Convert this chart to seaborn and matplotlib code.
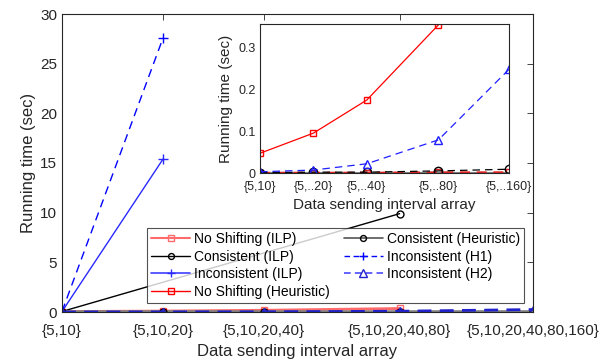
import numpy as np
import pandas as pd
import matplotlib
matplotlib.use("Agg")
import matplotlib.pyplot as plt
import seaborn as sns

sns.set_style("white")
plt.rcParams['font.family'] = ['Liberation Sans', 'DejaVu Sans']

# ---- data ----
x_pos = [0, 1, 2, 3.34, 4.66]
main_labels = ['{5,10}', '{5,10,20}', '{5,10,20,40}', '{5,10,20,40,80}', '{5,10,20,40,80,160}']
inset_labels = ['{5,10}', '{5,..20}', '{5,..40}', '{5,..80}', '{5,..160}']

ns_ilp = [0.047, 0.095, 0.174, 0.353, np.nan]
cons_ilp = [0.05, np.nan, np.nan, 9.9, np.nan]
incons_ilp = [0.05, 15.4, np.nan, np.nan, np.nan]
ns_heur = [0.001, 0.001, 0.001, 0.002, 0.002]
cons_heur = [0.001, 0.002, 0.002, 0.005, 0.009]
incons_h1 = [0.05, 27.6, np.nan, np.nan, np.nan]
incons_h2 = [0.003, 0.007, 0.022, 0.079, 0.247]

main_yticks = [0, 5, 10, 15, 20, 25, 30]
inset_yticks = [0, 0.1, 0.2, 0.3]

TXT = '#262626'

fig = plt.figure(figsize=(6.13, 3.62), dpi=100)
ax = fig.add_axes([62/613, 1-312/362, (533-62)/613, (312-14)/362])


def draw(a, y, label, color, marker, ls='-', lw=1.0, ms=5, z=2):
    df = pd.DataFrame({'x': x_pos, 'y': y}).dropna()
    sns.lineplot(data=df, x='x', y='y', ax=a, color=color, marker=marker,
                 linestyle=ls, linewidth=lw, markersize=ms,
                 markerfacecolor='none', markeredgecolor=color,
                 markeredgewidth=1.0, label=label, sort=False, zorder=z)
    return a.get_lines()[-1]


handles = []
handles.append(draw(ax, ns_ilp, 'No Shifting (ILP)', '#ff6a6a', 's', lw=2.0))
handles.append(draw(ax, cons_ilp, 'Consistent (ILP)', 'black', 'o', lw=1.0))
handles.append(draw(ax, incons_ilp, 'Inconsistent (ILP)', '#2a2aff', '+', lw=1.0, ms=7))
handles.append(draw(ax, ns_heur, 'No Shifting (Heuristic)', 'red', 's', lw=1.0))
h_ch = draw(ax, cons_heur, 'Consistent (Heuristic)', '#808080', 'o', lw=2.5)
h_ch.set_markeredgecolor('black')
handles.append(h_ch)
handles.append(draw(ax, incons_h1, 'Inconsistent (H1)', '#0000ff', '+', ls=(0, (6, 4)), lw=1.0, ms=7))
handles.append(draw(ax, incons_h2, 'Inconsistent (H2)', '#2222cc', '^', ls=(0, (5, 3)), lw=2.0, ms=6))

ax.set_xlim(0, 4.66)
ax.set_ylim(0, 30)
ax.set_xticks(x_pos)
ax.set_xticklabels(main_labels)
ax.set_yticks(main_yticks)
ax.set_xlabel('Data sending interval array', fontsize=12, color=TXT, labelpad=4)
ax.set_ylabel('Running time (sec)', fontsize=12, color=TXT, labelpad=3)
ax.tick_params(direction='in', top=True, right=True, length=4.5, width=0.6,
               labelsize=11, colors=TXT)
ax.tick_params(axis='x', pad=9)
ax.tick_params(axis='y', pad=3.5)
for s in ax.spines.values():
    s.set_visible(True)
    s.set_color(TXT)
    s.set_linewidth(0.8)

leg_colors = ['#ff6a6a', 'black', '#4040ff', 'red', '#555555', '#0000ff', '#4a4aff']
leg_lw = [1.5, 1.0, 1.2, 1.0, 1.2, 1.0, 1.2]
leg_ls = ['-', '-', '-', '-', '-', (0, (4, 2.5)), (0, (4, 2.5))]

leg = ax.legend(handles=handles, labels=[h.get_label() for h in handles], ncol=2,
                loc='upper left', bbox_to_anchor=(147/613, 1-228/362),
                bbox_transform=fig.transFigure, frameon=True, fancybox=False,
                fontsize=10, handlelength=2.8, handletextpad=0.3,
                columnspacing=1.0, labelspacing=0.25, borderpad=0.3,
                borderaxespad=0, markerscale=0.85)
leg.get_frame().set_edgecolor(TXT)
leg.get_frame().set_linewidth(0.8)
leg.set_zorder(5)
for t in leg.get_texts():
    t.set_color('black')
for ln, c, w, st in zip(leg.get_lines(), leg_colors, leg_lw, leg_ls):
    ln.set_color(c)
    ln.set_linewidth(w)
    ln.set_linestyle(st)

# ---- inset ----
ax2 = fig.add_axes([260/613, 1-173/362, (509-260)/613, (173-24)/362])
ax2.set_facecolor('white')
draw(ax2, [0, 0, 0, 0, 0], None, '#808080', None, lw=1.5)
draw(ax2, ns_ilp, None, 'red', 's', lw=0.9, ms=5)
draw(ax2, ns_heur, None, '#e02020', 's', ls=(0, (6, 4)), lw=1.2, ms=5)
draw(ax2, cons_heur, None, 'black', 'o', ls=(0, (6, 4)), lw=0.9, ms=6)
draw(ax2, incons_h2, None, '#1f1fff', '^', ls=(0, (6, 4)), lw=0.9, ms=6)
if ax2.get_legend() is not None:
    ax2.get_legend().remove()
ax2.set_xlim(0, 4.66)
ax2.set_ylim(0, 0.355)
ax2.set_xticks(x_pos)
ax2.set_xticklabels(inset_labels)
ax2.set_yticks(inset_yticks)
ax2.set_yticklabels(['0', '0.1', '0.2', '0.3'])
ax2.set_xlabel('Data sending interval array', fontsize=11, color=TXT, labelpad=3)
ax2.set_ylabel('Running time (sec)', fontsize=11, color=TXT, labelpad=4)
ax2.tick_params(direction='in', top=False, right=False, length=4, width=0.6,
                labelsize=9, colors=TXT)
ax2.tick_params(axis='x', pad=6)
ax2.tick_params(axis='y', pad=3)
for s in ax2.spines.values():
    s.set_visible(True)
    s.set_color(TXT)
    s.set_linewidth(0.8)

fig.savefig('out.png', dpi=100, facecolor='white')
